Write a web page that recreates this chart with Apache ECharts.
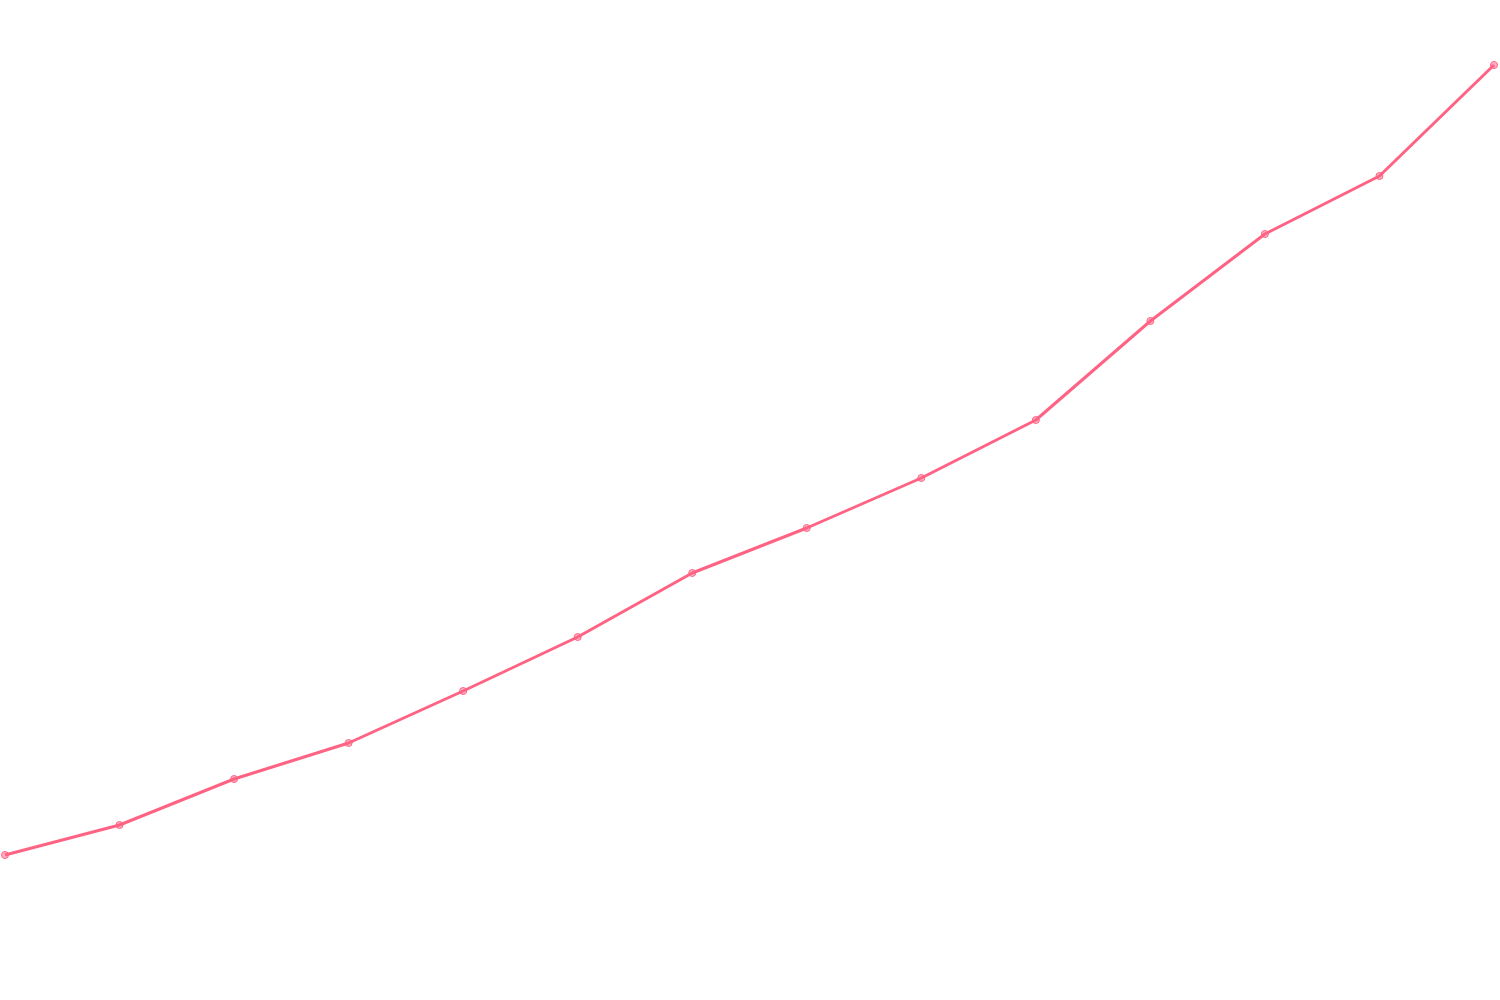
<!DOCTYPE html>
<html>
<head>
<meta charset="utf-8">
<script src="https://cdn.jsdelivr.net/npm/echarts@6/dist/echarts.min.js"></script>
<style>html,body{margin:0;padding:0;background:#fff}#c{width:1500px;height:1000px}</style>
</head>
<body>
<div id="c"></div>
<script>
var categories = ['1','2','3','4','5','6','7','8','9','10','11','12','13','14'];
var values = [145, 175, 221, 257, 309, 363, 427, 472, 522, 580, 679, 766, 824, 935];

var chart = echarts.init(document.getElementById('c'));
chart.setOption({
  animation: false,
  grid: { left: 5, right: 6, top: 0, bottom: 0 },
  xAxis: { type: 'category', data: categories, boundaryGap: false, show: false },
  yAxis: { type: 'value', min: 0, max: 1000, show: false },
  series: [{
    type: 'line',
    data: values,
    symbol: 'circle',
    symbolSize: 7,
    lineStyle: { color: '#FF6384', width: 3 },
    itemStyle: { color: 'rgba(255,99,132,0.5)', borderColor: '#FF6384', borderWidth: 1 }
  }]
});
</script>
</body>
</html>
